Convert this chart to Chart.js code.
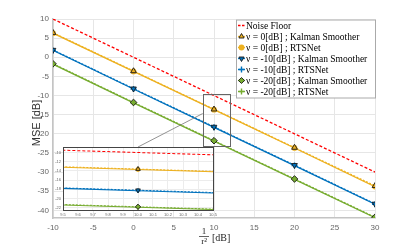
<!DOCTYPE html>
<html><head><meta charset="utf-8">
<script src="https://cdn.jsdelivr.net/npm/chart.js@4.4.1/dist/chart.umd.min.js"></script>
<style>
html,body{margin:0;padding:0;background:#fff;}
#wrap{position:relative;width:415px;height:247px;overflow:hidden;}
#main{position:absolute;left:0;top:0;}
#inset{position:absolute;left:40px;top:138px;}
</style></head><body>
<div id="wrap"><canvas id="main" width="415" height="247"></canvas><canvas id="inset" width="185" height="82"></canvas></div>
<script>
// ---- data ----
const xValues = [-10, 0, 10, 20, 30];
const noiseFloor = [10, 0, -10, -20, -30];
const ks0 = [6.4, -3.6, -13.6, -23.6, -33.6];
const rts0 = [6.3, -3.7, -13.7, -23.7, -33.8];
const ks10 = [1.9, -8.2, -18.2, -28.2, -38.3];
const rts10 = [1.8, -8.3, -18.3, -28.3, -38.4];
const ks20 = [-1.7, -11.8, -21.8, -31.8, -41.8];
const rts20 = [-1.8, -11.9, -21.9, -31.9, -41.9];
const seriesLabels = ['Noise Floor',
  'ν = 0[dB] ; Kalman Smoother', 'ν = 0[dB] ; RTSNet',
  'ν = -10[dB] ; Kalman Smoother', 'ν = -10[dB] ; RTSNet',
  'ν = -20[dB] ; Kalman Smoother', 'ν = -20[dB] ; RTSNet'];
const xTicks = [-10, -5, 0, 5, 10, 15, 20, 25, 30];
const yTicks = [-40, -35, -30, -25, -20, -15, -10, -5, 0, 5, 10];
const insetXTicks = [9.5, 9.6, 9.7, 9.8, 9.9, 10, 10.1, 10.2, 10.3, 10.4, 10.5];
const insetYTicks = [-22, -20, -18, -16, -14, -12, -10];
const yAxisTitle = 'MSE [dB]';
const xAxisTitleNum = '1', xAxisTitleDen = 'r²', xAxisTitleUnit = '[dB]';

const RED = '#FF0000', ORANGE = '#EDB120', BLUE = '#0072BD', GREEN = '#77AC30';

function pts(arr){ return xValues.map((x,i)=>({x:x, y:arr[i]})); }

function makeDatasets(s){
  const ks = (data,color,style,rot,label)=>({label, data:pts(data), borderColor:color, borderWidth:1.3*s, borderDash:[2,1.5],
     pointStyle:style, rotation:rot, pointRadius:3.3*s, pointBackgroundColor:color, pointBorderColor:'#1a1a1a', pointBorderWidth:0.9, tension:0});
  const rts = (data,color,style,r,label)=>({label, data:pts(data), borderColor:color, borderWidth:1.3*s,
     pointStyle:style, pointRadius:r*s, pointBackgroundColor:color, pointBorderColor:color, pointBorderWidth:1.4, tension:0});
  return [
    {label:seriesLabels[0], data:pts(noiseFloor), borderColor:RED, borderWidth:1.3*s, borderDash:[3,2], pointRadius:0},
    ks(ks0, ORANGE, 'triangle', 0, seriesLabels[1]),
    rts(rts0, ORANGE, 'circle', 2.2, seriesLabels[2]),
    ks(ks10, BLUE, 'triangle', 180, seriesLabels[3]),
    rts(rts10, BLUE, 'cross', 3, seriesLabels[4]),
    ks(ks20, GREEN, 'rectRot', 0, seriesLabels[5]),
    rts(rts20, GREEN, 'cross', 3, seriesLabels[6])
  ];
}

// ---- inset chart ----
const insetBg = {
  id:'insetBg',
  beforeDraw(c){ const a=c.chartArea, ctx=c.ctx; ctx.save(); ctx.fillStyle='#fff';
    ctx.fillRect(a.left,a.top,a.right-a.left,a.bottom-a.top); ctx.restore(); },
  afterDraw(c){ const a=c.chartArea, ctx=c.ctx; ctx.save(); ctx.strokeStyle='#444'; ctx.lineWidth=1;
    ctx.strokeRect(Math.round(a.left)+0.5, Math.round(a.top)+0.5, Math.round(a.right-a.left), Math.round(a.bottom-a.top)); ctx.restore(); }
};
const insetChart = new Chart(document.getElementById('inset'), {
  type:'line',
  data:{datasets:makeDatasets(0.8)},
  options:{
    responsive:false, animation:false, devicePixelRatio:1,
    layout:{padding:{left:0,right:12,top:9,bottom:0}},
    plugins:{legend:{display:false}, tooltip:{enabled:false}},
    scales:{
      x:{type:'linear', min:9.5, max:10.5,
         afterBuildTicks(s){ s.ticks = insetXTicks.map(v=>({value:v})); },
         afterFit(s){ s.height = 10; },
         grid:{color:'#ececec', drawTicks:false}, border:{display:false},
         ticks:{autoSkip:false, maxRotation:0, font:{size:4, family:'Liberation Sans'}, color:'#666', padding:2,
           callback:v=>Number(v).toFixed(1)}},
      y:{type:'linear', min:-22.5, max:-8.8,
         afterBuildTicks(s){ s.ticks = insetYTicks.map(v=>({value:v})); },
         afterFit(s){ s.width = 23; },
         grid:{color:'#ececec', drawTicks:false}, border:{display:false},
         ticks:{autoSkip:false, font:{size:4, family:'Liberation Sans'}, color:'#666', padding:2}}
    }
  },
  plugins:[insetBg]
});

// ---- main chart ----
const decor = {
  id:'decor',
  afterDraw(c){
    const ctx=c.ctx, xs=c.scales.x, ys=c.scales.y, a=c.chartArea;
    ctx.save();
    // y title
    ctx.fillStyle='#333'; ctx.font='11px "Liberation Sans"'; ctx.textAlign='center'; ctx.textBaseline='middle';
    ctx.translate(37,123); ctx.rotate(-Math.PI/2); ctx.fillText(yAxisTitle,0,0);
    ctx.setTransform(1,0,0,1,0,0);
    // x title (fraction)
    ctx.fillStyle='#222'; ctx.font='9px "Liberation Serif"';
    ctx.fillText(xAxisTitleNum, 204, 231.5);
    ctx.fillText(xAxisTitleDen, 204, 241.5);
    ctx.strokeStyle='#222'; ctx.lineWidth=0.7; ctx.beginPath(); ctx.moveTo(199,236.5); ctx.lineTo(209,236.5); ctx.stroke();
    ctx.textAlign='left'; ctx.font='10px "Liberation Serif"'; ctx.fillText(xAxisTitleUnit, 212, 238);
    // zoom rectangle
    const rx1=xs.getPixelForValue(8.6), rx2=xs.getPixelForValue(11.9), ry1=ys.getPixelForValue(-9.5), ry2=ys.getPixelForValue(-23.2);
    ctx.strokeStyle='#666'; ctx.lineWidth=1;
    ctx.strokeRect(Math.round(rx1)+0.5, Math.round(ry1)+0.5, Math.round(rx2-rx1), Math.round(ry2-ry1));
    // connecting line
    const ic = insetChart, canvasEl = document.getElementById('inset');
    const ex = canvasEl.offsetLeft + ic.scales.x.getPixelForValue(10), ey = canvasEl.offsetTop + ic.chartArea.top;
    ctx.strokeStyle='#777'; ctx.lineWidth=0.8; ctx.beginPath();
    ctx.moveTo(rx1, ys.getPixelForValue(-14.7)); ctx.lineTo(ex, ey); ctx.stroke();
    // legend
    const lx=236, ly=19.5, lw=140, rowH=11, n=c.data.datasets.length;
    ctx.fillStyle='#fff'; ctx.fillRect(lx, ly, lw, rowH*n+1.5);
    ctx.strokeStyle='#aaa'; ctx.lineWidth=1; ctx.strokeRect(lx+0.5, ly+0.5, lw-1, rowH*n+1);
    ctx.font='9.5px "Liberation Serif"'; ctx.textBaseline='middle'; ctx.textAlign='left';
    c.data.datasets.forEach((d,i)=>{
      const cy = ly + 6 + i*rowH;
      ctx.save();
      ctx.strokeStyle=d.borderColor; ctx.lineWidth=1.3; ctx.setLineDash(i===0?[2.5,1.5]:[]);
      ctx.beginPath(); ctx.moveTo(lx+2, cy); ctx.lineTo(lx+9, cy); ctx.stroke();
      ctx.setLineDash([]);
      if (d.pointRadius) {
        ctx.fillStyle = d.pointBackgroundColor; ctx.strokeStyle = d.pointBorderColor; ctx.lineWidth = d.pointBorderWidth;
        Chart.helpers.drawPoint(ctx, {pointStyle:d.pointStyle, rotation:d.rotation||0, radius:Math.min(d.pointRadius,3), borderWidth:d.pointBorderWidth}, lx+5.5, cy);
      }
      ctx.restore();
      ctx.fillStyle='#000';
      ctx.fillText(d.label, lx+10, cy+0.5, 128);
    });
    ctx.restore();
  }
};

const mainChart = new Chart(document.getElementById('main'), {
  type:'line',
  data:{datasets:makeDatasets(1)},
  options:{
    responsive:false, animation:false, devicePixelRatio:1,
    layout:{padding:{left:0,right:40,top:19,bottom:0}},
    plugins:{legend:{display:false}, tooltip:{enabled:false}},
    scales:{
      x:{type:'linear', min:-10, max:30,
         afterBuildTicks(s){ s.ticks = xTicks.map(v=>({value:v})); },
         afterFit(s){ s.height = 29; },
         grid:{color:'#e6e6e6', drawTicks:false}, border:{color:'#c4c4c4', width:1.5},
         ticks:{autoSkip:false, maxRotation:0, font:{size:8, family:'Liberation Sans'}, color:'#666', padding:5}},
      y:{type:'linear', min:-42, max:10,
         afterBuildTicks(s){ s.ticks = yTicks.map(v=>({value:v})); },
         afterFit(s){ s.width = 53; },
         grid:{color:'#e6e6e6', drawTicks:false}, border:{color:'#c4c4c4', width:1.5},
         ticks:{autoSkip:false, font:{size:8, family:'Liberation Sans'}, color:'#666', padding:4}}
    }
  },
  plugins:[decor]
});
</script>
</body></html>
